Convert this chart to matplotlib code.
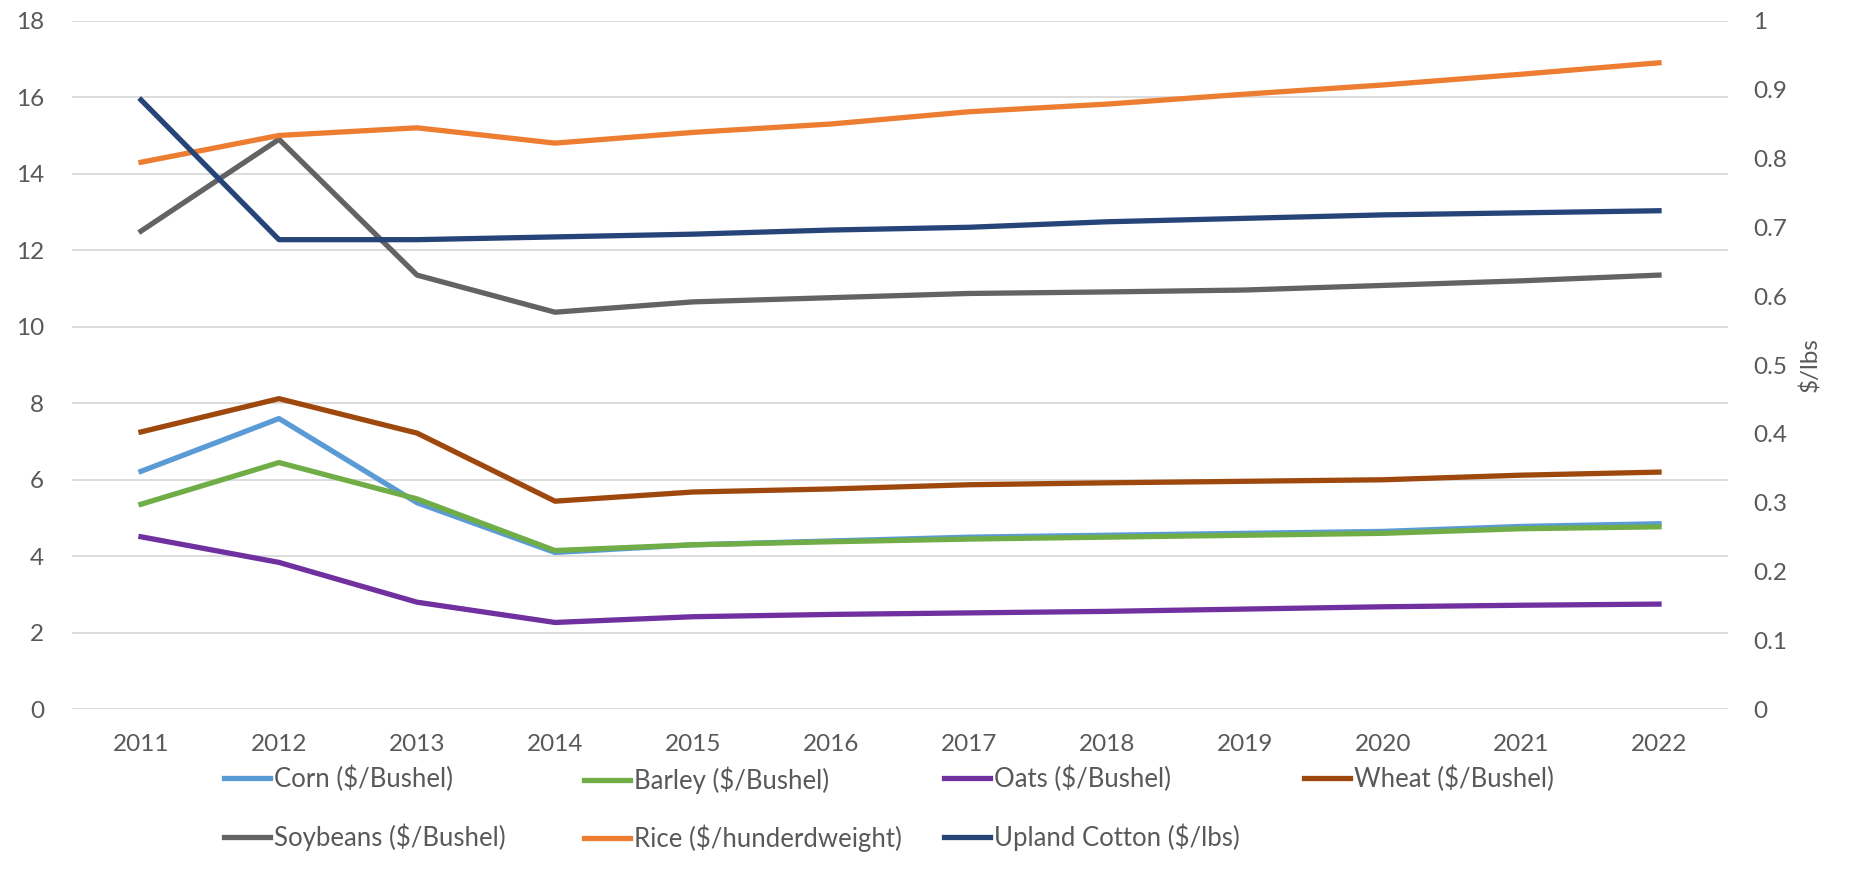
import matplotlib.pyplot as plt

plt.rcParams['font.family'] = ['Lato', 'DejaVu Sans']

years = ['2011', '2012', '2013', '2014', '2015', '2016', '2017', '2018', '2019', '2020', '2021', '2022']

corn = [6.22, 7.6, 5.4, 4.1, 4.3, 4.4, 4.5, 4.55, 4.6, 4.65, 4.78, 4.85]
barley = [5.36, 6.45, 5.5, 4.15, 4.3, 4.38, 4.45, 4.5, 4.55, 4.6, 4.72, 4.77]
oats = [4.51, 3.84, 2.8, 2.27, 2.42, 2.48, 2.52, 2.56, 2.62, 2.68, 2.72, 2.75]
wheat = [7.25, 8.12, 7.22, 5.44, 5.68, 5.76, 5.87, 5.92, 5.96, 6.0, 6.12, 6.2]
soybeans = [12.5, 14.9, 11.35, 10.38, 10.65, 10.76, 10.87, 10.91, 10.96, 11.08, 11.2, 11.35]
rice = [14.3, 15.0, 15.2, 14.8, 15.08, 15.3, 15.62, 15.82, 16.08, 16.32, 16.6, 16.9]
cotton = [0.885, 0.682, 0.682, 0.686, 0.690, 0.696, 0.700, 0.708, 0.713, 0.718, 0.721, 0.724]

left_ticks = [0, 2, 4, 6, 8, 10, 12, 14, 16, 18]
right_ticks = [0, 0.1, 0.2, 0.3, 0.4, 0.5, 0.6, 0.7, 0.8, 0.9, 1]
right_labels = ['0', '0.1', '0.2', '0.3', '0.4', '0.5', '0.6', '0.7', '0.8', '0.9', '1']

TXT = '#595959'
FS = 17.5
LW = 3.8


def plot_prices():
    fig = plt.figure(figsize=(18.5, 8.85), dpi=100)
    ax = fig.add_axes([72 / 1850, 1 - 709.3 / 885, (1728 - 72) / 1850, (709.3 - 20.7) / 885])
    x = list(range(len(years)))

    series = [
        (corn, 'Corn ($/Bushel)', '#5B9BD5'),
        (barley, 'Barley ($/Bushel)', '#70AD47'),
        (oats, 'Oats ($/Bushel)', '#7030A0'),
        (wheat, 'Wheat ($/Bushel)', '#9E480E'),
        (soybeans, 'Soybeans ($/Bushel)', '#636363'),
        (rice, 'Rice ($/hunderdweight)', '#ED7D31'),
    ]
    handles = []
    for vals, lab, col in series:
        h, = ax.plot(x, vals, color=col, lw=LW, label=lab, solid_joinstyle='round')
        handles.append(h)

    ax2 = ax.twinx()
    h, = ax2.plot(x, cotton, color='#264478', lw=LW, label='Upland Cotton ($/lbs)')
    handles.append(h)

    ax.set_xlim(-0.5, 11.5)
    ax.set_ylim(0, 18)
    ax2.set_ylim(0, 1)
    ax.set_xticks(x)
    ax.set_xticklabels(years)
    ax.set_yticks(left_ticks)
    ax2.set_yticks(right_ticks)
    ax2.set_yticklabels(right_labels)
    ax.grid(axis='y', color='#D9D9D9', lw=1.3)
    ax.set_axisbelow(True)
    for a in (ax, ax2):
        for s in a.spines.values():
            s.set_visible(False)
    ax.tick_params(axis='x', length=0, pad=18, labelsize=FS, labelcolor=TXT)
    ax.tick_params(axis='y', length=0, pad=20, labelsize=FS, labelcolor=TXT)
    ax2.tick_params(axis='y', length=0, pad=18, labelsize=FS, labelcolor=TXT)
    ax2.set_ylabel('$/lbs', fontsize=FS, color=TXT, labelpad=9)

    # legend laid out in four equal columns, Excel style
    cols = [[0, 4], [1, 5], [2, 6], [3]]
    col_x = [224, 584, 944, 1304]
    for idx, cx in zip(cols, col_x):
        fig.legend([handles[i] for i in idx], [handles[i].get_label() for i in idx],
                   loc='upper left', bbox_to_anchor=(cx / 1850, 1 - 766 / 885),
                   bbox_transform=fig.transFigure, frameon=False, fontsize=18.5,
                   borderpad=0, borderaxespad=0, handlelength=1.8, handletextpad=0.15,
                   labelspacing=1.2, labelcolor=TXT)

    fig.savefig('out.png', dpi=100)


if __name__ == "__main__":
    plot_prices()
